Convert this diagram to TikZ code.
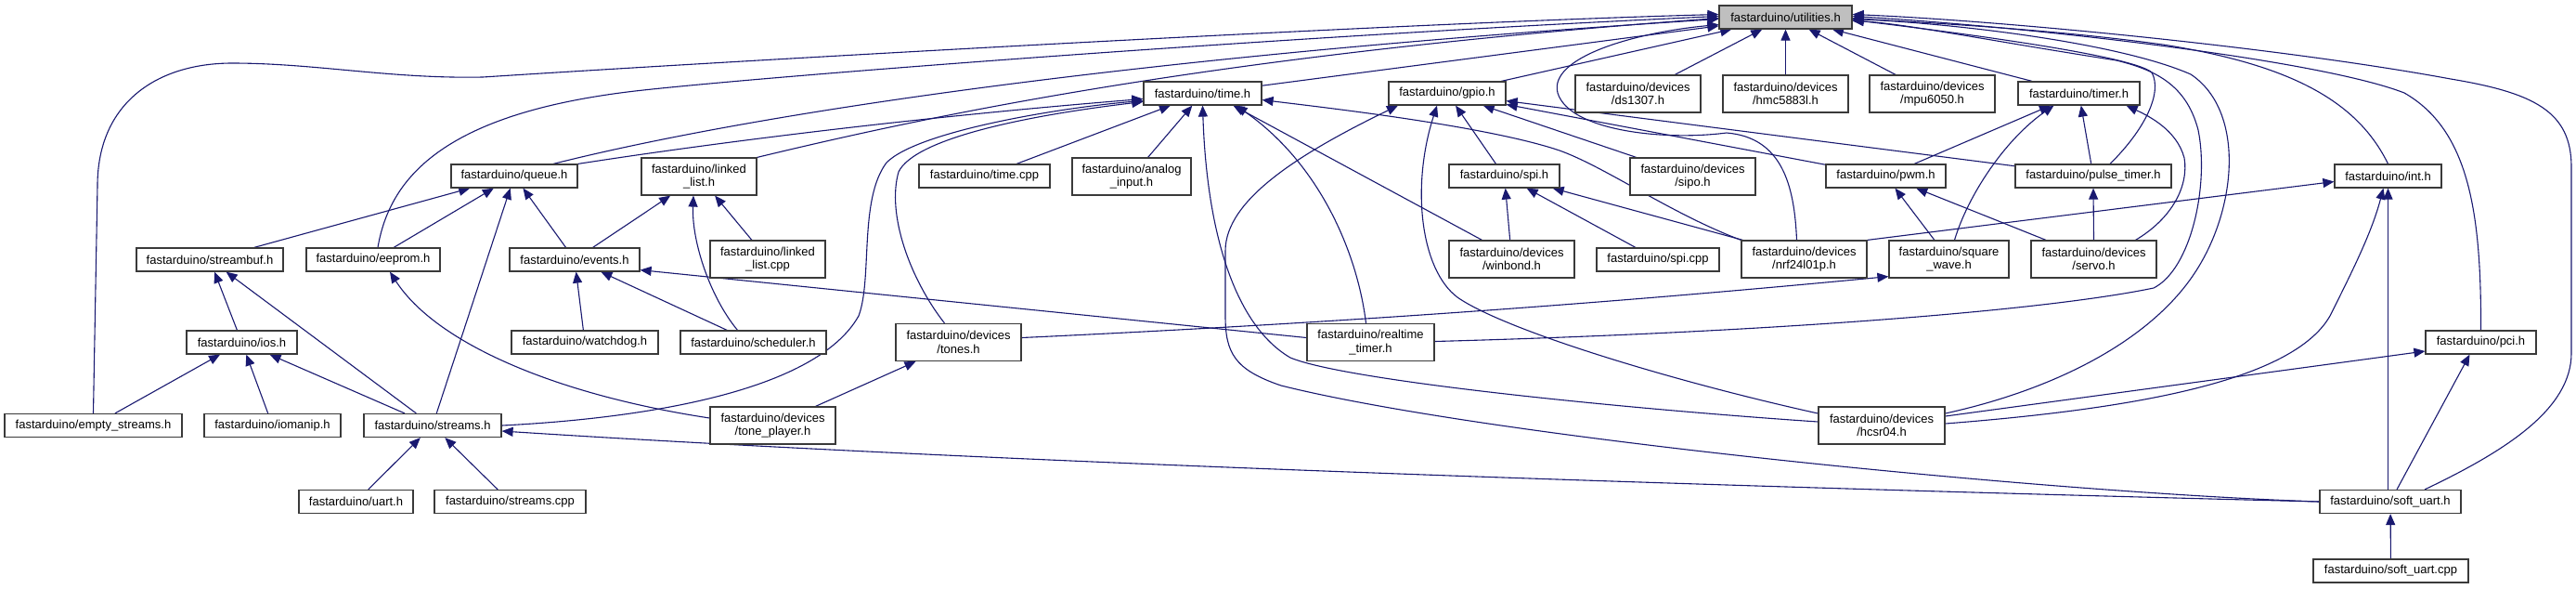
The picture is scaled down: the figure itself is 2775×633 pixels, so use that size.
\documentclass[tikz,border=0pt]{standalone}
\usepackage{fontspec}
\setmainfont{Liberation Sans}
\usetikzlibrary{arrows.meta}
\pgfdeclarelayer{bg}
\pgfsetlayers{bg,main}
\definecolor{edgeblue}{HTML}{191970}
\definecolor{rootfill}{HTML}{BFBFBF}
\definecolor{boxline}{HTML}{3A3A3A}
\begin{document}
\begin{tikzpicture}[x=1pt,y=-1pt,
  box/.style={draw=boxline, line width=1.2pt, fill=white, inner sep=0pt, align=center,
    font=\fontsize{13}{14.5}\selectfont, text=black},
  one/.style={box, minimum height=25pt},
  two/.style={box, minimum height=40pt},
  e/.style={draw=edgeblue, line width=1.1pt, -{Triangle[length=12pt,width=10pt]}, fill=none},
]
\useasboundingbox (0,0) rectangle (2775,633);

% ---- nodes ----
\node[one, fill=rootfill, minimum width=143pt] (util) at (1923.5,18.5) {fastarduino/utilities.h};
\node[one, minimum width=127pt] (time) at (1295.5,100.5) {fastarduino/time.h};
\node[one, minimum width=126pt] (gpio) at (1559,100.5) {fastarduino/gpio.h};
\node[two, minimum width=135pt] (ds1307) at (1764.5,101) {fastarduino/devices\\/ds1307.h};
\node[two, minimum width=135pt] (hmc) at (1923.5,101) {fastarduino/devices\\/hmc5883l.h};
\node[two, minimum width=135pt] (mpu) at (2081.5,101) {fastarduino/devices\\/mpu6050.h};
\node[one, minimum width=131pt] (timer) at (2239.5,100.5) {fastarduino/timer.h};
\node[one, minimum width=136pt] (queue) at (554,189.5) {fastarduino/queue.h};
\node[two, minimum width=124pt] (llh) at (753,190) {fastarduino/linked\\\_list.h};
\node[one, minimum width=141pt] (timecpp) at (1060.5,189.5) {fastarduino/time.cpp};
\node[two, minimum width=128pt] (analog) at (1219,190) {fastarduino/analog\\\_input.h};
\node[one, minimum width=119pt] (spi) at (1620.5,189.5) {fastarduino/spi.h};
\node[two, minimum width=135pt] (sipo) at (1823.5,190) {fastarduino/devices\\/sipo.h};
\node[one, minimum width=129pt] (pwm) at (2031.5,189.5) {fastarduino/pwm.h};
\node[one, minimum width=168pt] (pulse) at (2255,189.5) {fastarduino/pulse\_timer.h};
\node[one, minimum width=115pt] (int) at (2572.5,189.5) {fastarduino/int.h};
\node[one, minimum width=158pt] (streambuf) at (226,279.5) {fastarduino/streambuf.h};
\node[one, minimum width=144pt] (eeprom) at (402,279.5) {fastarduino/eeprom.h};
\node[one, minimum width=140pt] (events) at (619,279.5) {fastarduino/events.h};
\node[two, minimum width=124pt] (llcpp) at (827,279) {fastarduino/linked\\\_list.cpp};
\node[two, minimum width=135pt] (winbond) at (1628.5,279) {fastarduino/devices\\/winbond.h};
\node[one, minimum width=132pt] (spicpp) at (1786,279.5) {fastarduino/spi.cpp};
\node[two, minimum width=135pt] (nrf) at (1943.5,279) {fastarduino/devices\\/nrf24l01p.h};
\node[two, minimum width=129pt] (square) at (2099.5,279) {fastarduino/square\\\_wave.h};
\node[two, minimum width=135pt] (servo) at (2255.5,279) {fastarduino/devices\\/servo.h};
\node[one, minimum width=119pt] (ios) at (260.5,368.5) {fastarduino/ios.h};
\node[one, minimum width=158pt] (watchdog) at (630,368.5) {fastarduino/watchdog.h};
\node[one, minimum width=157pt] (scheduler) at (811.5,368.5) {fastarduino/scheduler.h};
\node[two, minimum width=135pt] (tones) at (1032.5,368.5) {fastarduino/devices\\/tones.h};
\node[two, minimum width=137pt] (rtt) at (1476.5,368.5) {fastarduino/realtime\\\_timer.h};
\node[one, minimum width=119pt] (pci) at (2672.5,368.5) {fastarduino/pci.h};
\node[one, minimum width=191pt] (empty) at (100.5,458) {fastarduino/empty\_streams.h};
\node[one, minimum width=147pt] (iomanip) at (293.5,458) {fastarduino/iomanip.h};
\node[one, minimum width=148pt] (streams) at (466,458) {fastarduino/streams.h};
\node[two, minimum width=135pt] (tonepl) at (832.5,458) {fastarduino/devices\\/tone\_player.h};
\node[two, minimum width=136pt] (hcsr) at (2027,458) {fastarduino/devices\\/hcsr04.h};
\node[one, minimum width=123pt] (uart) at (383.5,540) {fastarduino/uart.h};
\node[one, minimum width=163pt] (streamscpp) at (549.5,540) {fastarduino/streams.cpp};
\node[one, minimum width=152pt] (softuart) at (2575,540) {fastarduino/soft\_uart.h};
\node[one, minimum width=167pt] (softcpp) at (2575.5,614.5) {fastarduino/soft\_uart.cpp};

% ---- edges ----
\begin{pgfonlayer}{bg}
\fill[white] (0,0) rectangle (2775,633);
% into utilities.h
\draw[e] (time) -- (util);
\draw[e] (gpio) -- (util);
\draw[e] (ds1307) -- (util);
\draw[e] (hmc) -- (util);
\draw[e] (mpu) -- (util);
\draw[e] (timer) -- (util);
\draw[e] ([xshift=42pt]queue.north) .. controls (800,125) and (1200,62) .. ([yshift=-2pt]util.west);
\draw[e] (llh.north east) .. controls (1000,125) and (1300,60) .. ([yshift=-1pt]util.west);
\draw[e] ([xshift=5pt]eeprom.north) .. controls (420,190) and (480,120) .. (693,97)
   .. controls (850,80) and (1400,38) .. ([yshift=1pt]util.west);
\draw[e] (empty.north) -- (105,200) .. controls (105,110) and (170,68) .. (250,68)
   .. controls (340,68) and (420,85) .. (520,83)
   .. controls (800,65) and (1500,25) .. ([yshift=3pt]util.west);
\draw[e] ([xshift=-8pt]nrf.north) .. controls (1933,200) and (1920,148) .. (1860,143)
   .. controls (1790,152) and (1690,140) .. (1678,100)
   .. controls (1668,62) and (1760,35) .. ([yshift=-8pt]util.west);
\draw[e] (int.north) .. controls (2540,110) and (2470,70) .. (2330,48)
   .. controls (2200,30) and (2060,24) .. ([yshift=-1pt]util.east);
\draw[e] (pci.north) .. controls (2673,230) and (2660,140) .. (2590,100)
   .. controls (2500,65) and (2200,30) .. ([yshift=1pt]util.east);
\draw[e] ([xshift=37pt]softuart.north) .. controls (2700,485) and (2770,440) .. (2770,380)
   -- (2770,180) .. controls (2770,120) and (2730,100) .. (2640,85)
   .. controls (2450,50) and (2150,22) .. ([yshift=3pt]util.east);
\draw[e] ([xshift=18pt]pulse.north) .. controls (2310,140) and (2330,100) .. (2318,78)
   .. controls (2300,62) and (2150,40) .. ([yshift=-3pt]util.east);
\draw[e] ([yshift=13pt]hcsr.east) .. controls (2210,420) and (2310,370) .. (2360,300)
   .. controls (2410,230) and (2420,120) .. (2360,80)
   .. controls (2280,45) and (2100,25) .. ([yshift=-2pt]util.east);
\draw[e] ([yshift=1pt]rtt.east) .. controls (1900,358) and (2200,335) .. (2320,310)
   .. controls (2360,290) and (2380,200) .. (2368,140)
   .. controls (2355,90) and (2320,75) .. (2280,65)
   .. controls (2150,45) and (2050,25) .. ([yshift=-4pt]util.east);
% into time.h
\draw[e] (queue.north east) .. controls (780,152) and (1000,125) .. ([yshift=-6pt]time.west);
\draw[e] (streams.east) .. controls (700,450) and (880,420) .. (925,340)
   .. controls (940,300) and (925,215) .. (955,175)
   .. controls (990,140) and (1150,115) .. ([yshift=-8pt]time.west);
\draw[e] ([xshift=-15pt]tones.north) .. controls (980,300) and (955,230) .. (968,185)
   .. controls (985,150) and (1100,125) .. ([yshift=-9pt]time.west);
\draw[e] (timecpp) -- (time);
\draw[e] (analog) -- (time);
\draw[e] ([xshift=-32pt]winbond.north) -- ([xshift=33pt]time.south);
\draw[e] ([xshift=-5pt]rtt.north) .. controls (1462,270) and (1420,175) .. ([xshift=36pt]time.south);
\draw[e] ([yshift=4pt]hcsr.west) .. controls (1750,440) and (1450,410) .. (1390,385)
   .. controls (1330,350) and (1300,250) .. (time.south);
\draw[e] (nrf.north west) .. controls (1800,230) and (1730,180) .. (1680,162)
   .. controls (1600,135) and (1420,115) .. ([yshift=-7pt]time.east);
% into gpio.h
\draw[e] (spi) -- (gpio);
\draw[e] (sipo) -- (gpio);
\draw[e] (pwm) -- (gpio);
\draw[e] (pulse) -- (gpio);
\draw[e] ([yshift=13pt]hcsr.west) .. controls (1800,410) and (1620,355) .. (1570,320)
   .. controls (1530,290) and (1520,200) .. ([xshift=-11pt]gpio.south);
\draw[e] (softuart.west) .. controls (2200,530) and (1600,470) .. (1380,415)
   .. controls (1330,398) and (1320,380) .. (1320,340) -- (1320,270)
   .. controls (1320,215) and (1400,165) .. ([xshift=-53pt]gpio.south);
% into spi.h
\draw[e] (winbond) -- (spi);
\draw[e] (spicpp) -- (spi);
\draw[e] ([xshift=2pt]nrf.north west) -- ([xshift=-8pt]spi.south east);
% into queue.h
\draw[e] (streambuf) -- (queue);
\draw[e] (eeprom) -- (queue);
\draw[e] (events) -- (queue);
\draw[e] (streams) -- (queue);
% into linked_list.h
\draw[e] (events) -- (llh);
\draw[e] (llcpp) -- (llh);
\draw[e] ([xshift=-17pt]scheduler.north) .. controls (765,320) and (745,260) .. ([xshift=-6pt]llh.south);
% into events.h
\draw[e] (watchdog) -- (events);
\draw[e] (scheduler) -- (events);
\draw[e] ([yshift=5pt]rtt.west) -- ([yshift=2pt]events.south east);
% into streambuf.h / ios.h / eeprom.h
\draw[e] (ios) -- (streambuf);
\draw[e] (streams) -- (streambuf);
\draw[e] (empty) -- (ios);
\draw[e] (iomanip) -- (ios);
\draw[e] (streams) -- (ios);
\draw[e] ([yshift=8pt]tonepl.west) .. controls (600,425) and (470,370) .. ([xshift=18pt]eeprom.south);
% into streams.h
\draw[e] (uart) -- (streams);
\draw[e] (streamscpp) -- (streams);
\draw[e] (softuart.west) .. controls (1900,525) and (1100,500) .. ([yshift=-6pt]streams.east);
% tones / square_wave / pwm / timer / pulse_timer
\draw[e] (tonepl) -- (tones);
\draw[e] ([yshift=5pt]tones.east) .. controls (1500,345) and (1800,320) .. ([yshift=2pt]square.south west);
\draw[e] (square) -- (pwm);
\draw[e] (servo) -- (pwm);
\draw[e] (pwm) -- (timer);
\draw[e] ([xshift=6pt]square.north) .. controls (2120,210) and (2160,150) .. ([xshift=-27pt]timer.south);
\draw[e] (pulse) -- (timer);
\draw[e] ([xshift=45pt]servo.north) .. controls (2340,235) and (2358,200) .. (2353,170)
   .. controls (2345,140) and (2315,125) .. ([xshift=-15pt]timer.south east);
\draw[e] (servo.north) -- (pulse.south);
% int.h / pci.h / soft_uart.h
\draw[e] (nrf.north east) -- ([yshift=-6pt]int.west);
\draw[e] ([yshift=2pt]hcsr.east) .. controls (2300,440) and (2470,410) .. (2510,340)
   .. controls (2535,290) and (2555,250) .. ([xshift=-5pt]int.south);
\draw[e] (softuart.north -| int.south) -- (int.south);
\draw[e] ([yshift=10pt]hcsr.east) -- ([yshift=-9.5pt]pci.west);
\draw[e] ([xshift=7pt]softuart.north) -- ([xshift=-12pt]pci.south);
\draw[e] (softcpp) -- (softuart);
\end{pgfonlayer}
\end{tikzpicture}
\end{document}
